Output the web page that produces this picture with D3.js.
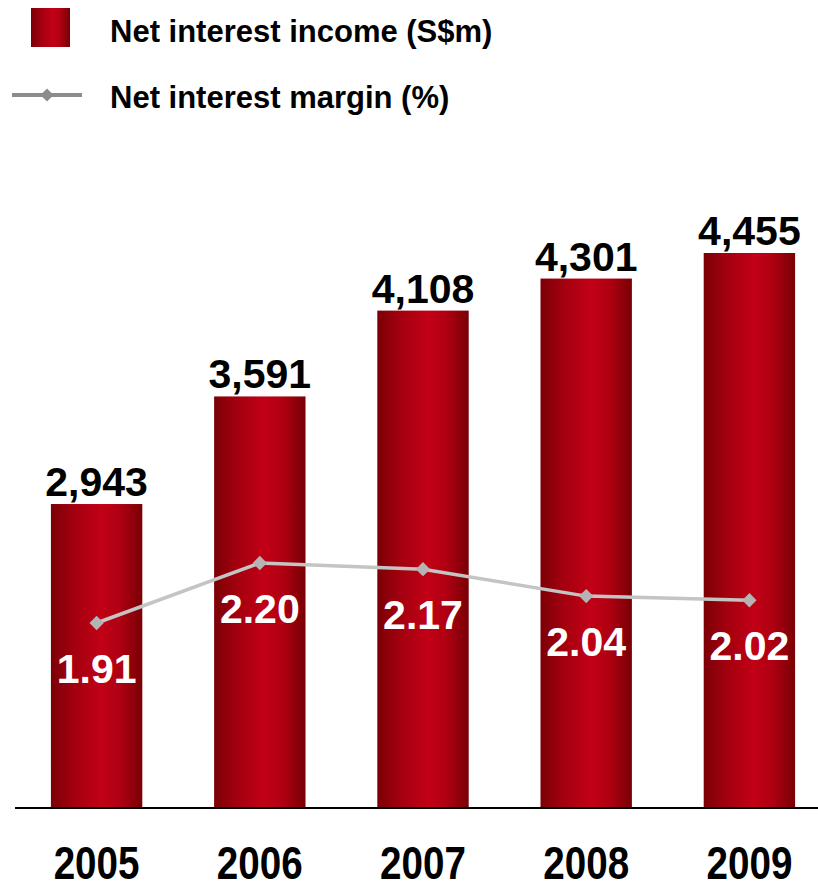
<!DOCTYPE html>
<html>
<head>
<meta charset="utf-8">
<script src="https://cdn.jsdelivr.net/npm/d3@7"></script>
<style>
  body { margin: 0; background: #fff; }
  svg text { font-family: "Liberation Sans", Arial, sans-serif; font-weight: bold; }
</style>
</head>
<body>
<div id="graf"></div>
<script>
// datos
years   = ['2005', '2006', '2007', '2008', '2009']
income  = [2943, 3591, 4108, 4301, 4455]
margin  = [1.91, 2.20, 2.17, 2.04, 2.02]
incomeLabels = ['2,943', '3,591', '4,108', '4,301', '4,455']
marginLabels = ['1.91', '2.20', '2.17', '2.04', '2.02']

ancho_total = 818
alto_total = 889

svg = d3.select('#graf').append('svg')
        .attr('width', ancho_total)
        .attr('height', alto_total)

// gradiente de las barras
defs = svg.append('defs')
grad = defs.append('linearGradient')
           .attr('id', 'barGrad')
           .attr('x1', '0%').attr('x2', '100%')
           .attr('y1', '0%').attr('y2', '0%')
grad.append('stop').attr('offset', '0%').attr('stop-color', '#7b0006')
grad.append('stop').attr('offset', '25%').attr('stop-color', '#a3000f')
grad.append('stop').attr('offset', '55%').attr('stop-color', '#c20016')
grad.append('stop').attr('offset', '75%').attr('stop-color', '#b00012')
grad.append('stop').attr('offset', '100%').attr('stop-color', '#780005')

base = 808

x = d3.scaleBand()
      .domain(years)
      .range([15, 831])
      .paddingInner(0.44)
      .paddingOuter(0.22)

y = d3.scaleLinear()
      .domain([1112, 4455])
      .range([base, 253])

y2 = d3.scaleLinear()
       .domain([1.91, 2.20])
       .range([623, 563])

g = svg.append('g')

// barras
g.selectAll('rect.bar')
  .data(years)
  .enter()
  .append('rect')
    .attr('class', 'bar')
    .attr('x', d => x(d))
    .attr('width', x.bandwidth())
    .attr('y', (d, i) => y(income[i]))
    .attr('height', (d, i) => base - y(income[i]))
    .attr('fill', 'url(#barGrad)')

// etiquetas de las barras
g.selectAll('text.val')
  .data(years)
  .enter()
  .append('text')
    .attr('class', 'val')
    .attr('x', d => x(d) + x.bandwidth() / 2)
    .attr('y', (d, i) => y(income[i]) - 8)
    .attr('text-anchor', 'middle')
    .style('font-size', '41px')
    .attr('fill', '#000')
    .text((d, i) => incomeLabels[i])

// eje x
xAxisGroup = g.append('g')
              .attr('transform', `translate(0, ${ base })`)
xAxisGroup.call(d3.axisBottom(x).tickSize(0).tickPadding(0))
xAxisGroup.select('.domain')
          .attr('d', 'M15,0H818')
          .attr('stroke', '#000')
          .attr('stroke-width', 2)
// letra condensada: se comprime en horizontal
xAxisGroup.selectAll('.tick text')
          .attr('y', 0)
          .attr('dy', 0)
          .attr('transform', 'translate(0, 71) scale(0.84, 1)')
          .attr('fill', '#000')
          .style('font-family', '"Liberation Sans", Arial, sans-serif')
          .style('font-weight', 'bold')
          .style('font-size', '46px')

// linea del margen
line = d3.line()
         .x((d, i) => x(years[i]) + x.bandwidth() / 2)
         .y(d => y2(d))

g.append('path')
  .datum(margin)
  .attr('d', line)
  .attr('fill', 'none')
  .attr('stroke', '#c4c4c4')
  .attr('stroke-width', 3.5)

g.selectAll('path.mk')
  .data(margin)
  .enter()
  .append('path')
    .attr('class', 'mk')
    .attr('d', d3.symbol().type(d3.symbolDiamond2).size(130))
    .attr('transform', (d, i) => `translate(${ x(years[i]) + x.bandwidth() / 2 }, ${ y2(d) })`)
    .attr('fill', '#b4b4b4')

g.selectAll('text.mg')
  .data(margin)
  .enter()
  .append('text')
    .attr('class', 'mg')
    .attr('x', (d, i) => x(years[i]) + x.bandwidth() / 2)
    .attr('y', d => y2(d) + 60)
    .attr('text-anchor', 'middle')
    .style('font-size', '41px')
    .attr('fill', '#fff')
    .text((d, i) => marginLabels[i])

// leyenda
leg = svg.append('g')
leg.append('rect')
   .attr('x', 31).attr('y', 8)
   .attr('width', 39).attr('height', 39)
   .attr('fill', 'url(#barGrad)')
leg.append('text')
   .attr('x', 110).attr('y', 42)
   .style('font-size', '31px')
   .text('Net interest income (S$m)')
leg.append('line')
   .attr('x1', 12).attr('x2', 82)
   .attr('y1', 95).attr('y2', 95)
   .attr('stroke', '#8c8c8c')
   .attr('stroke-width', 4)
leg.append('path')
   .attr('d', d3.symbol().type(d3.symbolDiamond2).size(110))
   .attr('transform', 'translate(47, 95)')
   .attr('fill', '#8c8c8c')
leg.append('text')
   .attr('x', 110).attr('y', 108)
   .style('font-size', '31px')
   .text('Net interest margin (%)')
</script>
</body>
</html>
